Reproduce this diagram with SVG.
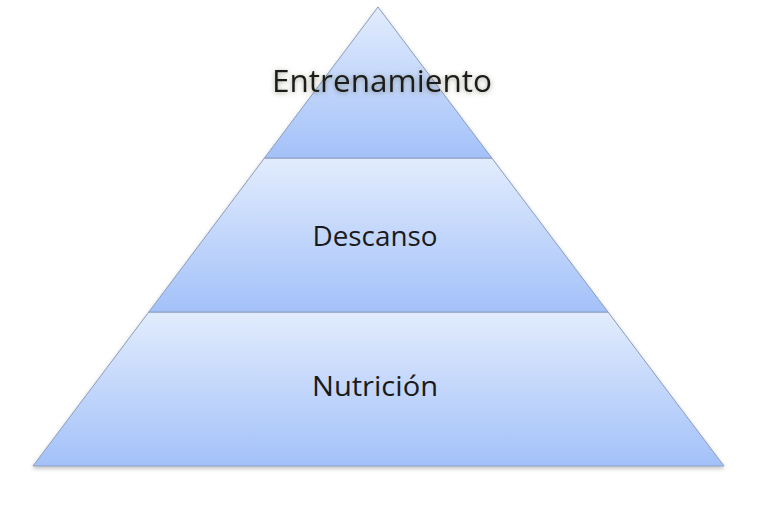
<svg xmlns="http://www.w3.org/2000/svg" width="768" height="510" viewBox="0 0 768 510">
  <defs>
    <linearGradient id="g1" x1="0" y1="0" x2="0" y2="1">
      <stop offset="0" stop-color="#e2ecfd"/>
      <stop offset="1" stop-color="#a3c1f9"/>
    </linearGradient>
    <filter id="shadow" x="-5%" y="-5%" width="110%" height="115%">
      <feGaussianBlur in="SourceAlpha" stdDeviation="2"/>
      <feOffset dx="0" dy="2" result="b"/>
      <feFlood flood-color="#000" flood-opacity="0.25"/>
      <feComposite in2="b" operator="in"/>
      <feMerge><feMergeNode/><feMergeNode in="SourceGraphic"/></feMerge>
    </filter>
    <filter id="glow" x="-10%" y="-40%" width="120%" height="180%">
      <feGaussianBlur in="SourceAlpha" stdDeviation="2.5"/>
      <feOffset dx="0" dy="1" result="b"/>
      <feFlood flood-color="#5a5a40" flood-opacity="0.55"/>
      <feComposite in2="b" operator="in"/>
      <feMerge><feMergeNode/><feMergeNode in="SourceGraphic"/></feMerge>
    </filter>
    <style>
      .band { fill: url(#g1); stroke: #8a9cc0; stroke-width: 1; }
      .lbl { font-family: "Open Sans", "Noto Sans", "Liberation Sans", sans-serif; fill: #1a1a1a; text-anchor: middle; }
    </style>
  </defs>
  <rect width="768" height="510" fill="#ffffff"/>
  <g filter="url(#shadow)">
    <g id="nutricion">
      <polygon class="band" points="148.8,312 608,312 724,466 33,466"/>
    </g>
    <g id="descanso">
      <polygon class="band" points="264.5,158 491.8,158 608,312 148.8,312"/>
    </g>
    <g id="entrenamiento">
      <polygon class="band" points="378,7 491.8,158 264.5,158"/>
    </g>
  </g>
  <text class="lbl" x="382" y="92" font-size="31" textLength="220" lengthAdjust="spacingAndGlyphs" filter="url(#glow)">Entrenamiento</text>
  <text class="lbl" x="375" y="246" font-size="27" textLength="125" lengthAdjust="spacingAndGlyphs">Descanso</text>
  <text class="lbl" x="375" y="396" font-size="27" textLength="126" lengthAdjust="spacingAndGlyphs">Nutrición</text>
  <g id="connectors"></g>
</svg>
